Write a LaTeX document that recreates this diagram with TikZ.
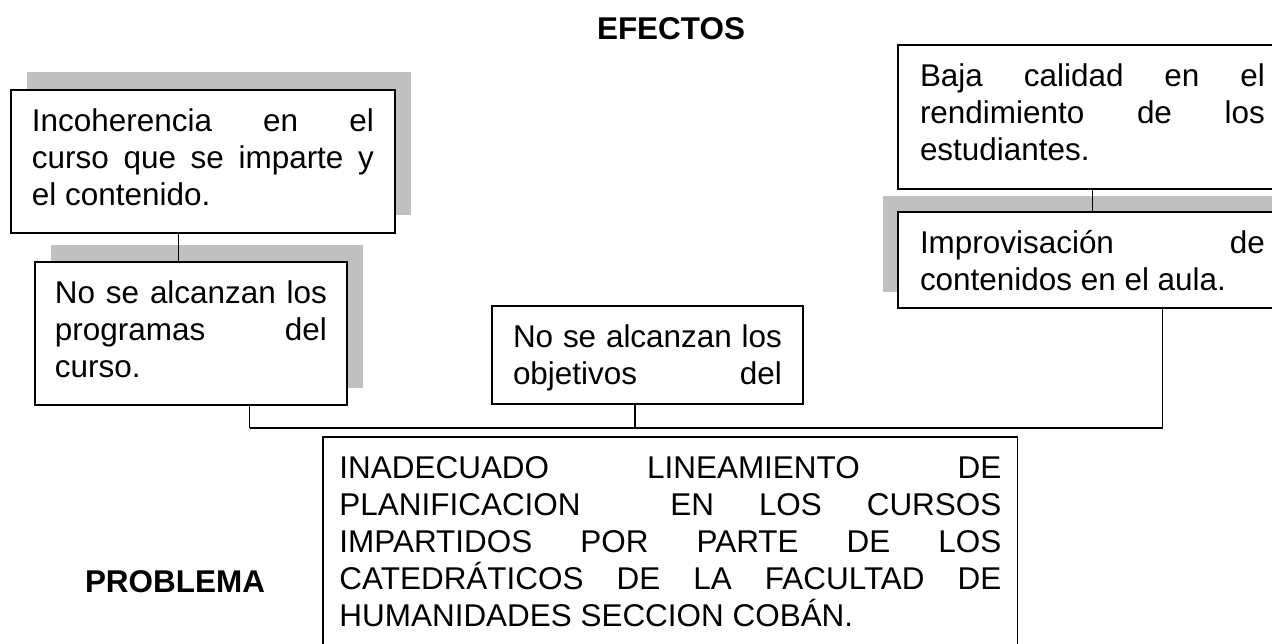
\documentclass[tikz,border=0pt]{standalone}
\usepackage{fontspec}
\setmainfont{Liberation Sans}
\usetikzlibrary{shadows}
\definecolor{shadegray}{RGB}{192,192,192}

\begin{document}
\begin{tikzpicture}[
    x=0.02cm, y=-0.02cm,
    every node/.style={font=\fontsize{17.9pt}{21pt}\selectfont},
    card/.style={draw, line width=0.7pt, fill=white, anchor=north west, outer sep=0pt,
        align=justify, inner xsep=0.42cm, inner ysep=0.38cm, text height=0.45cm},
    link/.style={line width=0.6pt},
    bus/.style={line width=1.2pt},
    heading/.style={font=\fontsize{17.9pt}{21pt}\selectfont\bfseries, anchor=base},
]
    \useasboundingbox (0,0) rectangle (1272,644);
    \clip (0,0) rectangle (1272,644);

    % Headings
    \node[heading] (efectos) at (671,40) {EFECTOS};
    \node[heading] (problabel) at (175,593) {PROBLEMA};

    % Left branch
    \node[card, text width=6.84cm, text depth=1.65cm,
          drop shadow={shadow xshift=0.32cm, shadow yshift=0.36cm, opacity=1, fill=shadegray}]
        (incoh) at (11,90) {Incoherencia en el\linebreak curso que se imparte y\linebreak el contenido.};
    \node[card, text width=5.44cm, inner xsep=0.40cm, text depth=1.65cm,
          drop shadow={shadow xshift=0.32cm, shadow yshift=0.34cm, opacity=1, fill=shadegray}]
        (progr) at (35,262) {No se alcanzan los\linebreak programas del\linebreak curso.};

    % Middle branch
    \node[card, text width=5.38cm, text depth=0.75cm]
        (objet) at (492,306) {No se alcanzan los\linebreak objetivos\hfill del};

    % Right branch
    \node[card, text width=6.9cm, inner xsep=0.44cm, text depth=1.67cm]
        (rendim) at (898,45) {Baja calidad en el\linebreak rendimiento de los\linebreak estudiantes.};
    \node[card, text width=6.9cm, inner xsep=0.44cm, text depth=0.71cm,
          drop shadow={shadow xshift=-0.30cm, shadow yshift=0.32cm, opacity=1, fill=shadegray}]
        (improv) at (898,212) {Improvisación de\linebreak contenidos en el aula.};

    % Problem
    \node[card, text width=13.24cm, inner xsep=0.33cm, text depth=3.4cm]
        (problema) at (323,437) {INADECUADO LINEAMIENTO DE\linebreak PLANIFICACION\ \ EN LOS CURSOS\linebreak IMPARTIDOS POR PARTE DE LOS\linebreak CATEDRÁTICOS DE LA FACULTAD DE\linebreak HUMANIDADES SECCION COBÁN.};

    % Connectors
    \coordinate (bus) at (0,428);
    \coordinate (d1) at ([xshift=1.18cm]progr.south);
    \coordinate (d2) at ([xshift=-0.25cm]objet.south);
    \coordinate (d3) at ([xshift=1.41cm]improv.south);
    \draw[link] ([xshift=-0.48cm]incoh.south) -- ([xshift=-0.48cm]incoh.south |- progr.north);
    \draw[link] (rendim.south) -- (rendim.south |- improv.north);
    \draw[link] (d1) -- (d1 |- bus);
    \draw[link] (d2) -- (d2 |- bus);
    \draw[link] (d3) -- (d3 |- bus);
    \draw[bus] (d1 |- bus) -- (d3 |- bus);
\end{tikzpicture}
\end{document}
